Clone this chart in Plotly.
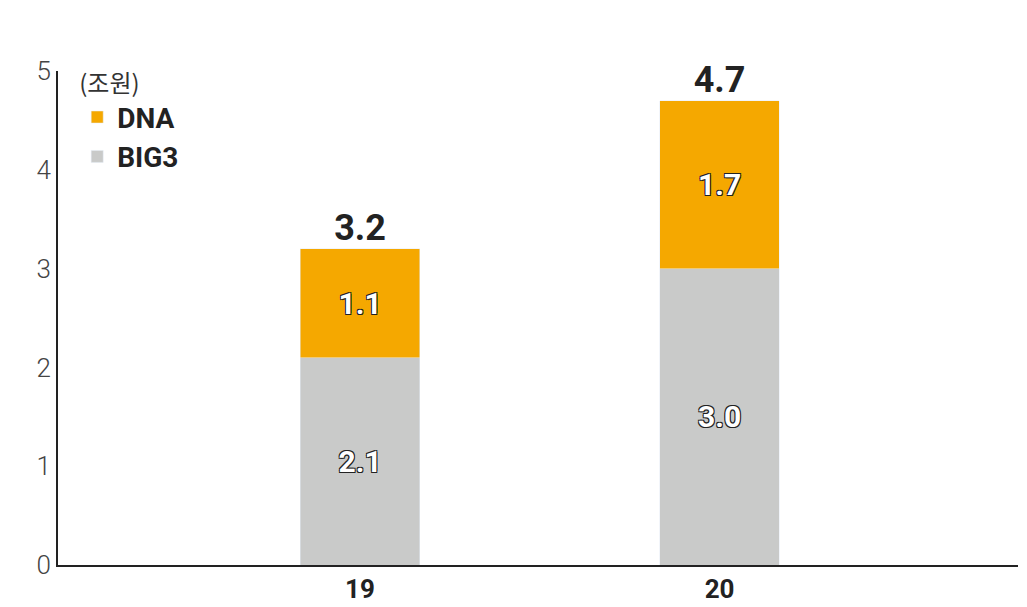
import plotly.graph_objects as go

years = ["19", "20"]
big3 = [2.1, 3.0]
dna = [1.1, 1.7]
totals = [3.2, 4.7]

outline = "-1px -1px 0 #222, 1px -1px 0 #222, -1px 1px 0 #222, 1px 1px 0 #222"

fig = go.Figure()
fig.add_trace(go.Bar(x=years, y=big3, name="BIG3", marker_color="#c9cac9", width=0.333,
                     text=[f"{v:.1f}" for v in big3], textposition="inside", insidetextanchor="middle",
                     textfont=dict(size=30, color="white", family="Roboto", weight="bold", shadow=outline)))
fig.add_trace(go.Bar(x=years, y=dna, name="DNA", marker_color="#f5a800", width=0.333,
                     text=[f"{v:.1f}" for v in dna], textposition="inside", insidetextanchor="middle",
                     textfont=dict(size=30, color="white", family="Roboto", weight="bold", shadow=outline)))
fig.add_trace(go.Scatter(x=years, y=totals, mode="text", text=[f"{v:.1f}" for v in totals],
                         textposition="top center", showlegend=False, cliponaxis=False,
                         textfont=dict(size=36, color="#222", family="Roboto", weight="bold")))

fig.update_layout(
    barmode="stack", width=1027, height=607, plot_bgcolor="white", paper_bgcolor="white",
    margin=dict(l=50, r=17, t=63, b=50),
    font=dict(family="Roboto, Noto Sans CJK KR", color="#222"),
    legend=dict(x=0.02, y=1.02, xanchor="left", yanchor="top", traceorder="reversed",
                title=dict(text="(조원)", font=dict(size=24, family="Noto Sans CJK KR", weight="normal", color="#333")),
                font=dict(size=28, weight="bold"), bgcolor="rgba(0,0,0,0)"),
    xaxis=dict(range=[-0.84, 1.83], showline=True, linecolor="#222", linewidth=2,
               tickfont=dict(size=26, weight="bold")),
    yaxis=dict(range=[0, 5], dtick=1, showgrid=False, showline=True, linecolor="#222", linewidth=2,
               tickfont=dict(size=26, color="#444", weight=300), ticklen=0),
)
fig.write_html("out.html")
